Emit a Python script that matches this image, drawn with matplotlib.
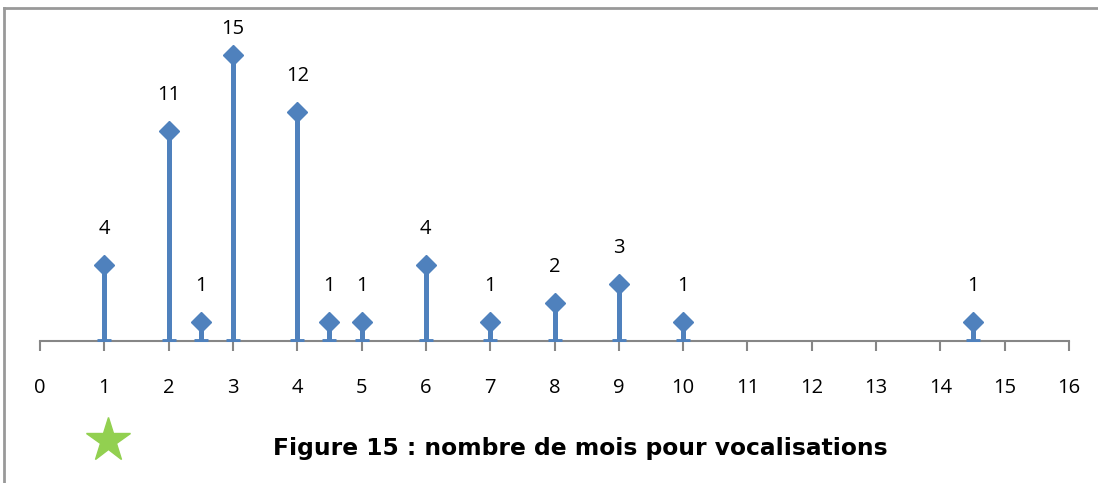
import matplotlib
matplotlib.use("Agg")
import matplotlib.pyplot as plt
from matplotlib.lines import Line2D

# Data
months = [1, 2, 2.5, 3, 4, 4.5, 5, 6, 7, 8, 9, 10, 14.5]
counts = [4, 11, 1, 15, 12, 1, 1, 4, 1, 2, 3, 1, 1]
xticks = list(range(0, 17))
title = "Figure 15 : nombre de mois pour vocalisations"

plt.rcParams['font.family'] = ['Open Sans', 'DejaVu Sans']

W, H = 1098, 483
fig = plt.figure(figsize=(W / 100, H / 100), dpi=100)
ax = fig.add_axes([40 / W, 1 - 341 / H, (1069 - 40) / W, (341 - 20) / H])

blue = '#4F81BD'
ax.errorbar(months, counts, yerr=[counts, [0] * len(counts)], fmt='D',
            color=blue, ms=10.5, elinewidth=3.6, capsize=4.8, capthick=3.5,
            zorder=3)

ax.set_xlim(0, 16)
ax.set_ylim(0, 321 / 19.07)

# value labels: ~36 px above marker, kept inside the chart near the top
fig.canvas.draw()
for x, y in zip(months, counts):
    px, py = ax.transData.transform((x, y))
    ly = min(py + 36, H - 29)
    fig.text(px / W, ly / H, str(y), ha='center', va='center',
             fontsize=14.5, color='black')

ax.set_xticks(xticks)
ax.set_xticklabels([str(t) for t in xticks], fontsize=14.5)
ax.set_yticks([])
for s in ['top', 'right', 'left']:
    ax.spines[s].set_visible(False)
ax.spines['bottom'].set_color('#868686')
ax.spines['bottom'].set_linewidth(1.5)
ax.spines['bottom'].set_zorder(1)
ax.tick_params(axis='x', direction='out', length=7, width=1.5,
               color='#868686', pad=19.5, labelcolor='black')
ax.patch.set_alpha(0)

# Title and star
fig.text(580 / W, 1 - 449 / H, title, ha='center', va='center',
         fontsize=16.8, fontweight='bold', color='black',
         family=['DejaVu Sans'])
fig.lines.append(Line2D([108 / W], [1 - 440 / H], marker='*', ms=33,
                        color='#92D050', linestyle='none',
                        transform=fig.transFigure))

# Frame lines (top and left)
fig.lines.append(Line2D([4 / W, 1], [1 - 7.5 / H, 1 - 7.5 / H], color='#999999',
                        lw=2, transform=fig.transFigure))
fig.lines.append(Line2D([4 / W, 4 / W], [0, 1 - 7.5 / H], color='#999999',
                        lw=2, transform=fig.transFigure))

fig.savefig('out.png', dpi=100)
